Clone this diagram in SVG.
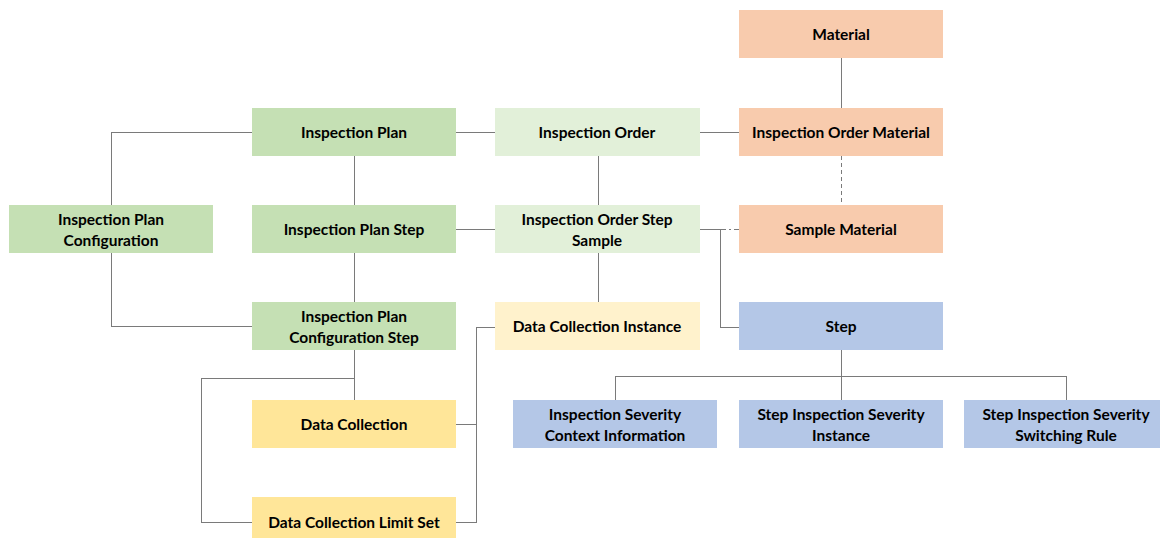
<svg xmlns="http://www.w3.org/2000/svg" width="1160" height="538" viewBox="0 0 1160 538">
<style>
.n text{font-family:Lato,"Liberation Sans",sans-serif;font-weight:bold;font-size:15.5px;fill:#000;text-anchor:middle;dominant-baseline:central}
.mat{fill:#f8cbad}.stp{fill:#b4c7e7}.pl{fill:#c5e0b4}.or{fill:#e2f0d9}.dci{fill:#fff2cc}.dc{fill:#ffe699}
.c path{fill:none;stroke:#7a7a7a;stroke-width:1;shape-rendering:crispEdges}
.c .d{stroke-dasharray:4 3}
.c .dd{stroke-dasharray:6 3 2 3}
</style>
<rect width="1160" height="538" fill="#fff"/>
<g class="c">
<path d="M841 58V108"/>
<path class="d" d="M841 156V205"/>
<path d="M456 132H495"/>
<path d="M700 132H739"/>
<path d="M354 156V205"/>
<path d="M598 156V205"/>
<path d="M456 229H495"/>
<path d="M700 229H720"/>
<path class="dd" d="M720 229H739"/>
<path d="M720 229V327H739"/>
<path d="M598 253V302"/>
<path d="M354 253V302"/>
<path d="M252 132H111V205"/>
<path d="M111 253V326H252"/>
<path d="M354 350V400"/>
<path d="M354 378H201V522H252"/>
<path d="M456 424H476"/>
<path d="M456 522H476V327H495"/>
<path d="M841 350V400"/>
<path d="M615 400V376H1066V400"/>
</g>
<g class="n" id="material"><rect class="mat" x="739" y="10" width="204" height="48"/><text x="841" y="34">Material</text></g>
<g class="n" id="inspection-order-material"><rect class="mat" x="739" y="108" width="204" height="48"/><text x="841" y="132">Inspection Order Material</text></g>
<g class="n" id="sample-material"><rect class="mat" x="739" y="205" width="204" height="48"/><text x="841" y="229">Sample Material</text></g>
<g class="n" id="step"><rect class="stp" x="739" y="302" width="204" height="48"/><text x="841" y="326">Step</text></g>
<g class="n" id="inspection-severity-context-information"><rect class="stp" x="513" y="400" width="204" height="48"/><text x="615" y="413.5">Inspection Severity</text><text x="615" y="434.5">Context Information</text></g>
<g class="n" id="step-inspection-severity-instance"><rect class="stp" x="739" y="400" width="204" height="48"/><text x="841" y="413.5">Step Inspection Severity</text><text x="841" y="434.5">Instance</text></g>
<g class="n" id="step-inspection-severity-switching-rule"><rect class="stp" x="964" y="400" width="196" height="48"/><text x="1066" y="413.5">Step Inspection Severity</text><text x="1066" y="434.5">Switching Rule</text></g>
<g class="n" id="inspection-plan"><rect class="pl" x="252" y="108" width="204" height="48"/><text x="354" y="132">Inspection Plan</text></g>
<g class="n" id="inspection-order"><rect class="or" x="495" y="108" width="205" height="48"/><text x="597" y="132">Inspection Order</text></g>
<g class="n" id="inspection-plan-configuration"><rect class="pl" x="9" y="205" width="204" height="48"/><text x="111" y="218.5">Inspection Plan</text><text x="111" y="239.5">Configuration</text></g>
<g class="n" id="inspection-plan-step"><rect class="pl" x="252" y="205" width="204" height="48"/><text x="354" y="229">Inspection Plan Step</text></g>
<g class="n" id="inspection-order-step-sample"><rect class="or" x="495" y="205" width="205" height="48"/><text x="597" y="218.5">Inspection Order Step</text><text x="597" y="239.5">Sample</text></g>
<g class="n" id="inspection-plan-configuration-step"><rect class="pl" x="252" y="302" width="204" height="48"/><text x="354" y="315.5">Inspection Plan</text><text x="354" y="336.5">Configuration Step</text></g>
<g class="n" id="data-collection-instance"><rect class="dci" x="495" y="302" width="205" height="48"/><text x="597" y="326">Data Collection Instance</text></g>
<g class="n" id="data-collection"><rect class="dc" x="252" y="400" width="204" height="48"/><text x="354" y="424">Data Collection</text></g>
<g class="n" id="data-collection-limit-set"><rect class="dc" x="252" y="497" width="204" height="48"/><text x="354" y="522">Data Collection Limit Set</text></g>
</svg>
